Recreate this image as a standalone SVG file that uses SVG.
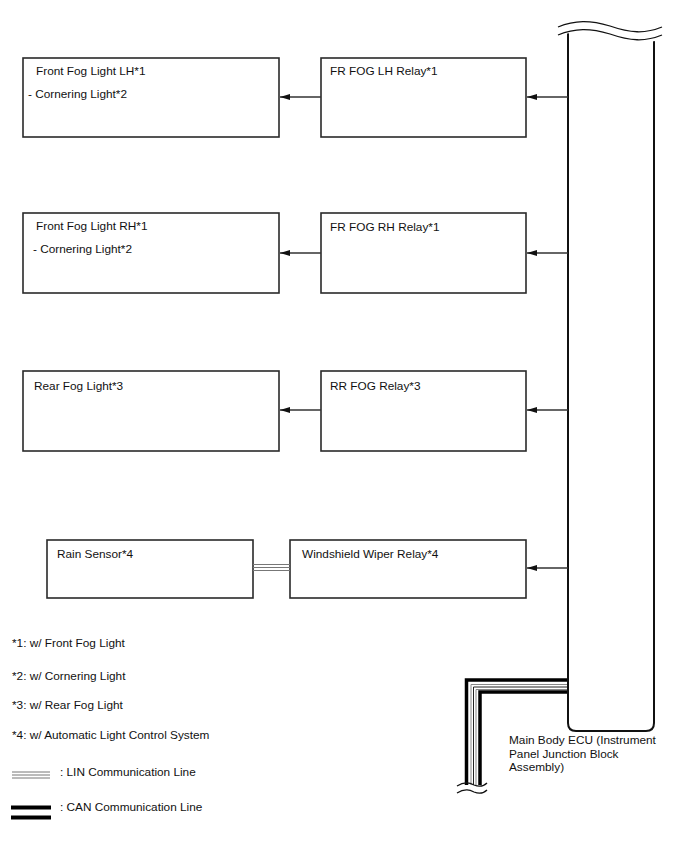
<svg xmlns="http://www.w3.org/2000/svg" width="688" height="852" viewBox="0 0 688 852">
<style>
text{font-family:"Liberation Sans",Arial,sans-serif;font-size:11.8px;fill:#111}
.box{fill:#fff;stroke:#2a2a2a;stroke-width:1.6}
.wire{stroke:#333;stroke-width:1.3;fill:none}
.ecu{fill:#fff;stroke:#111;stroke-width:2}
.wave{fill:none;stroke:#111;stroke-width:1.3}
</style>
<defs>
<marker id="arr" viewBox="0 0 10 6" refX="10" refY="3" markerWidth="10" markerHeight="6" markerUnits="userSpaceOnUse" orient="auto">
<path d="M0,3 L10,0 L10,6 Z" fill="#111" transform="rotate(180 5 3)"/>
</marker>
</defs>
<rect width="688" height="852" fill="#fff"/>

<g id="ecu">
<path class="ecu" d="M568,30 V723 Q568,731 576,731 H646 Q654,731 654,723 V32"/>
<path d="M560,28 C585,16 610,40 662,30 L662,40 C610,50 585,24 560,36 Z" fill="#fff" stroke="none"/>
<path class="wave" d="M558,27 C575,20 590,20 610,26 C630,33 645,34 662,27"/>
<path class="wave" d="M558,35 C575,28 590,28 610,34 C630,41 645,42 662,35"/>
<text x="509" y="744">Main Body ECU (Instrument</text>
<text x="509" y="757.5">Panel Junction Block</text>
<text x="509" y="771">Assembly)</text>
</g>

<g id="front-fog-lh">
<rect class="box" x="23" y="58" width="256" height="79"/>
<text x="36" y="75">Front Fog Light LH*1</text>
<text x="28" y="98">- Cornering Light*2</text>
</g>
<g id="fr-fog-lh-relay">
<rect class="box" x="321" y="58" width="205" height="79"/>
<text x="330" y="75">FR FOG LH Relay*1</text>
</g>

<g id="front-fog-rh">
<rect class="box" x="23" y="213" width="256" height="80"/>
<text x="36" y="230">Front Fog Light RH*1</text>
<text x="33" y="253">- Cornering Light*2</text>
</g>
<g id="fr-fog-rh-relay">
<rect class="box" x="321" y="213" width="205" height="80"/>
<text x="330" y="231">FR FOG RH Relay*1</text>
</g>

<g id="rear-fog">
<rect class="box" x="23" y="371" width="256" height="80"/>
<text x="34" y="390">Rear Fog Light*3</text>
</g>
<g id="rr-fog-relay">
<rect class="box" x="321" y="371" width="205" height="80"/>
<text x="330" y="390">RR FOG Relay*3</text>
</g>

<g id="rain-sensor">
<rect class="box" x="47" y="540" width="206" height="58"/>
<text x="57" y="558">Rain Sensor*4</text>
</g>
<g id="wiper-relay">
<rect class="box" x="290" y="540" width="236" height="58"/>
<text x="302" y="558">Windshield Wiper Relay*4</text>
</g>

<g id="connectors">
<line class="wire" x1="568" y1="97" x2="527" y2="97" marker-end="url(#arr)"/>
<line class="wire" x1="321" y1="97" x2="280" y2="97" marker-end="url(#arr)"/>
<line class="wire" x1="568" y1="253" x2="527" y2="253" marker-end="url(#arr)"/>
<line class="wire" x1="321" y1="253" x2="280" y2="253" marker-end="url(#arr)"/>
<line class="wire" x1="568" y1="410" x2="527" y2="410" marker-end="url(#arr)"/>
<line class="wire" x1="321" y1="410" x2="280" y2="410" marker-end="url(#arr)"/>
<line class="wire" x1="568" y1="568" x2="527" y2="568" marker-end="url(#arr)"/>
<g stroke="#777" stroke-width="1">
<line x1="253" y1="564.5" x2="290" y2="564.5"/>
<line x1="253" y1="567.5" x2="290" y2="567.5"/>
<line x1="253" y1="570.5" x2="290" y2="570.5"/>
</g>
<g fill="none">
<path d="M567,680 H466.5 V790" stroke="#000" stroke-width="3.5"/>
<path d="M567,684.5 H471 V790" stroke="#888" stroke-width="1"/>
<path d="M567,687 H473.5 V790" stroke="#222" stroke-width="1"/>
<path d="M567,689.5 H476 V790" stroke="#888" stroke-width="1"/>
<path d="M567,692 H480 V790" stroke="#000" stroke-width="3.5"/>
</g>
<path d="M456,785 L490,785 L490,800 L456,800 Z" fill="#fff"/>
<path class="wave" d="M457,786 C465,781 470,783 474,785 C479,787 483,787 487,783"/>
<path class="wave" d="M457,793 C465,788 470,790 474,792 C479,794 483,794 487,790"/>
</g>

<g id="legend">
<text x="12" y="647">*1: w/ Front Fog Light</text>
<text x="12" y="680">*2: w/ Cornering Light</text>
<text x="12" y="709">*3: w/ Rear Fog Light</text>
<text x="12" y="739">*4: w/ Automatic Light Control System</text>
<g stroke="#777" stroke-width="1">
<line x1="12" y1="772" x2="50" y2="772"/>
<line x1="12" y1="775" x2="50" y2="775"/>
<line x1="12" y1="778" x2="50" y2="778"/>
</g>
<text x="60" y="776">: LIN Communication Line</text>
<g stroke="#000" stroke-width="4">
<line x1="11" y1="807.5" x2="51" y2="807.5"/>
<line x1="11" y1="817.5" x2="51" y2="817.5"/>
</g>
<text x="60" y="811">: CAN Communication Line</text>
</g>
</svg>
